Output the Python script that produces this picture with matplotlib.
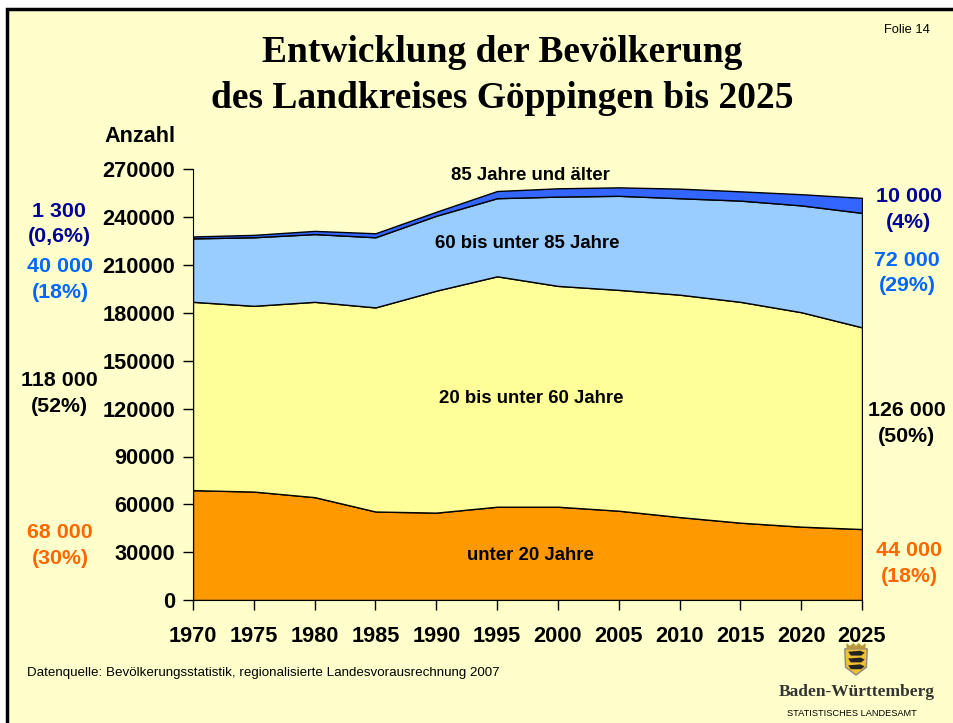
import numpy as np
import matplotlib.pyplot as plt
from matplotlib.patches import Polygon, Rectangle

plt.rcParams['font.family'] = ['Liberation Sans', 'DejaVu Sans']

W, H = 954, 723

years = [1970, 1975, 1980, 1985, 1990, 1995, 2000, 2005, 2010, 2015, 2020, 2025]
unter_20 = [68900, 68000, 64500, 55500, 54800, 58500, 58500, 56000, 52000, 48500, 46000, 44500]
von_20_60 = [118100, 116500, 122500, 128000, 139200, 144500, 138500, 138500, 139500, 138500, 134500, 126500]
von_60_85 = [39800, 43000, 42500, 44000, 47000, 49000, 56000, 59000, 60500, 63500, 67000, 71800]
ab_85 = [1200, 1500, 2000, 2500, 2500, 4500, 5200, 5300, 6000, 5800, 7000, 9400]
band_colors = ['#FF9900', '#FFFF99', '#99CCFF', '#3366FF']
y_ticks = list(range(0, 270001, 30000))

fig = plt.figure(figsize=(W / 100, H / 100), dpi=100, facecolor='white')


def px_axes(left, top, right, bottom):
    return fig.add_axes([left / W, 1 - bottom / H, (right - left) / W, (bottom - top) / H])


def label(x, y, s, **kw):
    kw.setdefault('ha', 'center')
    kw.setdefault('va', 'center')
    kw.setdefault('fontweight', 'bold')
    fig.text(x / W, 1 - y / H, s, **kw)


# Folienrahmen
fig.add_artist(Rectangle((7.5 / W, -0.01), 1, 1 - 8.5 / H + 0.01, transform=fig.transFigure,
                         facecolor='#FFFFCC', edgecolor='black', linewidth=2.5, zorder=-1))

ax = px_axes(193, 169.5, 862, 600)
ax.set_facecolor('none')
polys = ax.stackplot(years, unter_20, von_20_60, von_60_85, ab_85, colors=band_colors,
                     edgecolor='black', linewidth=1)
ax.set_xlim(1970, 2025)
ax.set_ylim(0, 270000)
ax.set_xticks(years)
ax.set_yticks(y_ticks)
ax.tick_params(axis='both', labelsize=15.7, length=7, width=1)
ax.tick_params(axis='x', pad=12)
ax.tick_params(axis='y', pad=6)
for t in ax.get_xticklabels() + ax.get_yticklabels():
    t.set_fontweight('bold')
ax.spines['top'].set_visible(False)
ax.spines['right'].set_visible(False)

# Titel
label(502, 53, 'Entwicklung der Bevölkerung', fontsize=27, family='Liberation Serif')
label(502, 98, 'des Landkreises Göppingen bis 2025', fontsize=27, family='Liberation Serif')
label(907, 30, 'Folie 14', fontsize=9.3, fontweight='normal')
label(140, 137, 'Anzahl', fontsize=15.6)

# Beschriftung der Flächen
label(530, 175, '85 Jahre und älter', fontsize=13.4)
label(527, 243, '60 bis unter 85 Jahre', fontsize=13.4)
label(531, 398, '20 bis unter 60 Jahre', fontsize=13.4)
label(530, 555, 'unter 20 Jahre', fontsize=13.4)

# Werte links und rechts
label(59, 211, '1 300', fontsize=15.4, color='#000099')
label(59, 237, '(0,6%)', fontsize=15.4, color='#000099')
label(60, 266, '40 000', fontsize=15.4, color='#0066FF')
label(60, 292, '(18%)', fontsize=15.4, color='#0066FF')
label(59, 381, '118 000', fontsize=15.4, color='black')
label(59, 407, '(52%)', fontsize=15.4, color='black')
label(60, 533, '68 000', fontsize=15.4, color='#FF6600')
label(60, 559, '(30%)', fontsize=15.4, color='#FF6600')
label(909, 196, '10 000', fontsize=15.4, color='#000099')
label(909, 222, '(4%)', fontsize=15.4, color='#000099')
label(907, 260, '72 000', fontsize=15.4, color='#0066FF')
label(907, 286, '(29%)', fontsize=15.4, color='#0066FF')
label(907, 411, '126 000', fontsize=15.4, color='black')
label(907, 437, '(50%)', fontsize=15.4, color='black')
label(909, 551, '44 000', fontsize=15.4, color='#FF6600')
label(909, 577, '(18%)', fontsize=15.4, color='#FF6600')

label(27, 673, 'Datenquelle: Bevölkerungsstatistik, regionalisierte Landesvorausrechnung 2007',
      fontsize=9.6, fontweight='normal', ha='left')

# Wappen und Schriftzug
logo = px_axes(843, 643, 869, 676)
logo.set_xlim(0, 30)
logo.set_ylim(34, 0)
logo.axis('off')
logo.add_patch(Polygon([(2, 6), (28, 6), (27, 25), (15, 33), (3, 25)], facecolor='#F0C030', edgecolor='#888888'))
logo.add_patch(Polygon([(4, 0), (8, 3), (12, 0), (15, 3), (18, 0), (22, 3), (26, 0), (26, 6), (4, 6)],
                       facecolor='#B8963C', edgecolor='none'))
for y0 in [9, 16, 23]:
    logo.add_patch(Polygon([(6, y0), (20, y0 - 1), (25, y0 + 1), (21, y0 + 4), (9, y0 + 4)],
                           facecolor='#222222', edgecolor='none'))
label(857, 692, 'Baden-Württemberg', fontsize=12.5, family='Liberation Serif', color='#333333')
label(852, 713, 'STATISTISCHES LANDESAMT', fontsize=6.7, fontweight='normal')

fig.savefig('out.png', dpi=100)
